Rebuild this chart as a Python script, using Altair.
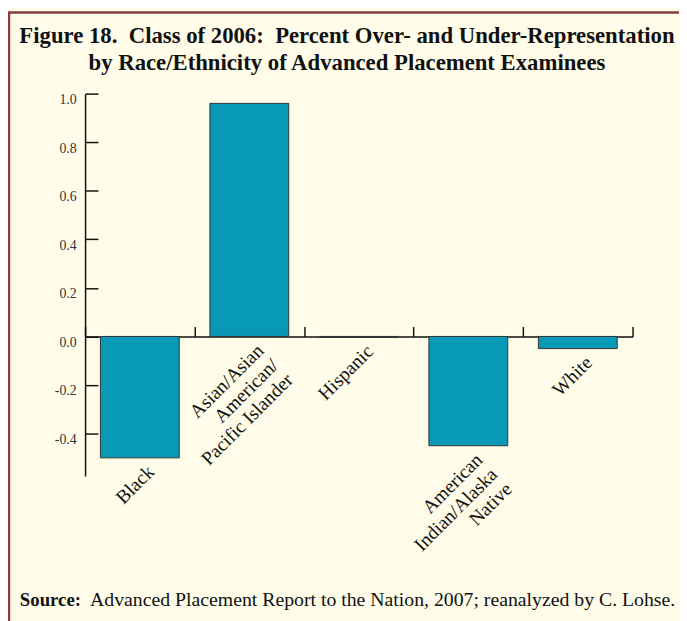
import altair as alt
import pandas as pd

# ---- data ----
categories = [
    "Black",
    "Asian/Asian American/Pacific Islander",
    "Hispanic",
    "American Indian/Alaska Native",
    "White",
]
tick_labels = [
    "Black",
    "Asian/Asian\nAmerican/\nPacific Islander",
    "Hispanic",
    "American\nIndian/Alaska\nNative",
    "White",
]
values = [-0.50, 0.96, -0.004, -0.45, -0.05]
y_ticks = [-0.4, -0.2, 0.0, 0.2, 0.4, 0.6, 0.8, 1.0]
y_domain = [-0.575, 1.0]

title_lines = [
    "Figure 18.\u00a0 Class of 2006:\u00a0 Percent Over- and Under-Representation",
    "by Race/Ethnicity of Advanced Placement Examinees",
]
source_bold = "Source:"
source_text = "Advanced Placement Report to the Nation, 2007; reanalyzed by C. Lohse."

# ---- styles ----
W, H = 554, 387
BG = "#fffde9"
BAR = "#0899b7"
FRAME = "#8b3a43"
FONT = "Liberation Serif"

df = pd.DataFrame({"category": categories, "label": tick_labels, "value": values})

zero_from_top = H * (y_domain[1] - 0) / (y_domain[1] - y_domain[0])

x_axis = alt.Axis(
    orient="top",
    offset=-zero_from_top,
    labels=False,
    title=None,
    tickBand="extent",
    tickSize=10,
    tickWidth=1.5,
    tickColor="#111",
    domainColor="#111",
    domainWidth=1.5,
    grid=False,
)
y_axis = alt.Axis(
    orient="right",
    offset=-W,
    values=y_ticks,
    labelExpr="replace(format(datum.value, '.1f'), '\u2212', '-')",
    labelAlign="right",
    labelPadding=-22,
    labelOffset=6,
    labelFont=FONT,
    labelFontSize=14,
    labelColor="#333333",
    tickSize=13,
    tickWidth=1.5,
    tickColor="#111",
    domainColor="#111",
    domainWidth=1.5,
    grid=False,
    title=None,
)
x_scale = alt.Scale(paddingInner=0, paddingOuter=0)
y_scale = alt.Scale(domain=y_domain, nice=False, zero=False)

base = alt.Chart(df)

bars = base.mark_bar(
    width=alt.RelativeBandSize(0.72), color=BAR, stroke="#333333", strokeWidth=1
).encode(
    x=alt.X("category:N", sort=categories, scale=x_scale, axis=x_axis),
    y=alt.Y("value:Q", scale=y_scale, axis=y_axis),
)

labels = base.transform_calculate(
    ly="min(datum.value, 0)"
).mark_text(
    lineBreak="\n",
    angle=315,
    align="right",
    baseline="top",
    font=FONT,
    fontSize=19.5,
    lineHeight=21,
    color="#111111",
    dx=0,
    dy=7,
).encode(
    x=alt.X("category:N", sort=categories, scale=x_scale, axis=x_axis),
    y=alt.Y("ly:Q", scale=y_scale, axis=y_axis),
    text="label:N",
)

one = alt.Chart(pd.DataFrame({"t": [source_bold], "u": [source_text]}))

frame = one.mark_rect(filled=False, stroke=FRAME, strokeWidth=2.5).encode(
    x=alt.value(-77), x2=alt.value(W + 200),
    y=alt.value(-82), y2=alt.value(H + 300),
)

src_bold = one.mark_text(
    align="left", baseline="alphabetic", font=FONT, fontSize=19,
    fontWeight="bold", color="#111111",
).encode(x=alt.value(-66), y=alt.value(H + 131), text="t:N")

src_rest = one.mark_text(
    align="left", baseline="alphabetic", font=FONT, fontSize=20,
    color="#111111",
).encode(x=alt.value(5), y=alt.value(H + 131), text="u:N")

chart = alt.layer(frame, bars, labels, src_bold, src_rest).properties(
    width=W,
    height=H,
    padding={"left": 78, "top": 83, "right": 47, "bottom": 143},
    autosize=alt.AutoSizeParams(type="none"),
    background=BG,
    title=alt.TitleParams(
        text=title_lines,
        font=FONT,
        fontSize=23,
        fontWeight="bold",
        lineHeight=27,
        color="#111111",
        anchor="middle",
        frame="group",
        dx=-12,
        offset=-64,
    ),
).configure_view(stroke=None, fill=BG)

chart.save("out.html", embed_options={"renderer": "svg", "actions": False})
